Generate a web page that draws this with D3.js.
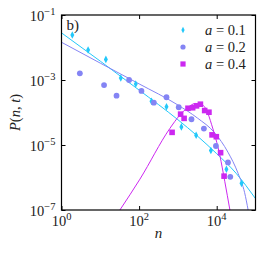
<html>
<head>
<meta charset="utf-8" />
<script src="https://cdn.jsdelivr.net/npm/d3@7/dist/d3.min.js"></script>
<style>
body { margin: 0; background: #fff; }
.frame { fill: none; stroke: #000; stroke-width: 1.2px; }
.fit { fill: none; stroke-width: 1px; }
</style>
</head>
<body>
<svg id="chart" width="267" height="253"></svg>
<script>

var svgWidth = 267;
var svgHeight = 253;
var margin = {top: 15, right: 11.5, bottom: 43, left: 61.5};
var width = svgWidth - margin.left - margin.right;
var height = svgHeight - margin.top - margin.bottom;
var font = "'Liberation Serif', 'DejaVu Serif', serif";

// series a = 0.1 (diamonds)
var n01 = [1.9, 4.85, 13.9, 33.7, 82, 209, 508, 1230, 2950, 7080, 17800, 43600];
var p01 = [2.43e-2, 8.4e-3, 4.3e-3, 1.15e-3, 7.5e-4, 2.2e-4, 1.5e-4, 3.6e-5, 2.0e-5, 6.8e-6, 1.8e-6, 6.6e-7];
// series a = 0.2 (circles)
var n02 = [2.97, 12.5, 26.2, 55.2, 115, 240, 508, 1050, 2240, 4680, 9550, 19500, 22400];
var p02 = [1.6e-3, 7.0e-4, 3.3e-4, 1.0e-3, 4.6e-4, 2.0e-4, 2.95e-4, 1.45e-4, 6.2e-5, 3.2e-5, 9.3e-6, 2.9e-6, 1.05e-6];
// series a = 0.4 (squares)
var n04 = [708, 1175, 1445, 1820, 2400, 3020, 3800, 4900, 6310, 7590, 9770, 12600, 15500];
var p04 = [2.45e-5, 8.9e-5, 6.6e-5, 1.35e-4, 1.4e-4, 1.6e-4, 1.8e-4, 1.15e-4, 1.02e-4, 2.05e-5, 1.8e-5, 5.8e-6, 1.1e-6];

// fitted curves
var fitN01 = [1, 10, 100, 1000, 3162, 1e4, 31623, 1e5];
var fitP01 = [2.82e-2, 3.8e-3, 4.9e-4, 6.0e-5, 1.9e-5, 5.4e-6, 1.35e-6, 2.24e-7];
var fitN02 = [1, 10, 100, 1000, 3162, 8913, 19500, 35500, 52500, 64600];
var fitP02 = [1.45e-2, 3.3e-3, 7.6e-4, 1.7e-4, 6.8e-5, 2.35e-5, 6.0e-6, 1.35e-6, 3.4e-7, 1e-7];
var fitN04 = [32, 105, 617, 1120, 1780, 2820, 4170, 5500, 7410, 12000, 16200, 21900];
var fitP04 = [1e-7, 8.9e-7, 3.2e-5, 8.3e-5, 1.4e-4, 1.9e-4, 1.75e-4, 1.17e-4, 4.2e-5, 4.9e-6, 7.4e-7, 1e-7];

var xTicks = [1, 100, 10000];
var xTickExp = ["0", "2", "4"];
var yTicks = [1e-1, 1e-3, 1e-5, 1e-7];
var yTickExp = ["\u22121", "\u22123", "\u22125", "\u22127"];

var labels = ["a = 0.1", "a = 0.2", "a = 0.4"];
var colors = ["#22c8fa", "#8484f4", "#cc28f0"];

var svg = d3.select("#chart");
var g = svg.append("g").attr("transform", "translate(" + margin.left + "," + margin.top + ")");

var x = d3.scaleLog().domain([1, 1e5]).range([0, width]);
var y = d3.scaleLog().domain([1e-7, 1e-1]).range([height, 0]);

g.append("defs").append("clipPath")
    .attr("id", "clip")
    .append("rect")
    .attr("width", width)
    .attr("height", height);

function zip(a, b) { return a.map(function(d, i) { return [d, b[i]]; }); }

var line = d3.line()
    .curve(d3.curveMonotoneX)
    .x(function(d) { return x(d[0]); })
    .y(function(d) { return y(d[1]); });

var plot = g.append("g").attr("clip-path", "url(#clip)");
[[fitN01, fitP01], [fitN02, fitP02], [fitN04, fitP04]].forEach(function(f, i) {
	plot.append("path")
	    .datum(zip(f[0], f[1]))
	    .attr("class", "fit")
	    .attr("stroke", colors[i])
	    .attr("d", line);
});

var diamond = "M0,-3.8L2,0L0,3.8L-2,0Z";
var diamondSmall = "M0,-3.2L1.6,0L0,3.2L-1.6,0Z";

plot.selectAll(".d01").data(zip(n01, p01)).enter().append("path")
    .attr("d", diamond)
    .attr("fill", colors[0])
    .attr("transform", function(d) { return "translate(" + x(d[0]) + "," + y(d[1]) + ")"; });

plot.selectAll(".d02").data(zip(n02, p02)).enter().append("circle")
    .attr("r", 2.9)
    .attr("fill", colors[1])
    .attr("cx", function(d) { return x(d[0]); })
    .attr("cy", function(d) { return y(d[1]); });

plot.selectAll(".d04").data(zip(n04, p04)).enter().append("rect")
    .attr("width", 5.6).attr("height", 5.6)
    .attr("fill", colors[2])
    .attr("x", function(d) { return x(d[0]) - 2.8; })
    .attr("y", function(d) { return y(d[1]) - 2.8; });

// frame and inward ticks
g.append("rect").attr("class", "frame").attr("width", width).attr("height", height);

g.append("g").attr("transform", "translate(0," + height + ")")
    .call(d3.axisBottom(x).tickValues(xTicks).tickSize(-4).tickFormat(""))
    .call(function(a) { a.select(".domain").remove(); });
g.append("g")
    .call(d3.axisTop(x).tickValues(xTicks).tickSize(-4).tickFormat(""))
    .call(function(a) { a.select(".domain").remove(); });
g.append("g")
    .call(d3.axisLeft(y).tickValues(yTicks).tickSize(-4).tickFormat(""))
    .call(function(a) { a.select(".domain").remove(); });
g.append("g").attr("transform", "translate(" + width + ",0)")
    .call(d3.axisRight(y).tickValues(yTicks).tickSize(-4).tickFormat(""))
    .call(function(a) { a.select(".domain").remove(); });

function txt(sel, size) {
	return sel.append("text")
	    .attr("font-family", font)
	    .attr("font-size", size)
	    .attr("fill", "#222");
}

// tick labels
xTicks.forEach(function(t, i) {
	let lab = txt(g, 14.5)
	    .attr("x", x(t))
	    .attr("y", height + 16)
	    .attr("text-anchor", "middle");
	lab.append("tspan").text("10");
	lab.append("tspan").attr("dy", -6).attr("font-size", 10.5).text(xTickExp[i]);
});

yTicks.forEach(function(t, i) {
	let lab = txt(g, 14.5)
	    .attr("x", -6)
	    .attr("y", y(t) + 6)
	    .attr("text-anchor", "end");
	lab.append("tspan").text("10");
	lab.append("tspan").attr("dy", -6).attr("font-size", 10.5).text(yTickExp[i]);
});

// axis titles
txt(g, 15)
    .attr("x", width / 2)
    .attr("y", height + 28)
    .attr("text-anchor", "middle")
    .attr("font-style", "italic")
    .text("n");

let yt = txt(g, 14.5)
    .attr("transform", "translate(" + (-42) + "," + (height / 2) + ") rotate(-90)")
    .attr("text-anchor", "middle");
yt.append("tspan").attr("font-style", "italic").text("P");
yt.append("tspan").text("(");
yt.append("tspan").attr("font-style", "italic").text("n");
yt.append("tspan").text(", ");
yt.append("tspan").attr("font-style", "italic").text("t");
yt.append("tspan").text(")");

// panel label
txt(g, 15)
    .attr("x", 5)
    .attr("y", 15)
    .text("b)");

// legend
var legend = g.append("g").attr("transform", "translate(" + (183 - margin.left) + "," + (30 - margin.top) + ")");
labels.forEach(function(l, i) {
	let row = legend.append("g").attr("transform", "translate(0," + (i * 17) + ")");
	if (i == 0) row.append("path").attr("d", diamondSmall).attr("fill", colors[0]);
	if (i == 1) row.append("circle").attr("r", 2.6).attr("fill", colors[1]);
	if (i == 2) row.append("rect").attr("x", -2.6).attr("y", -2.6).attr("width", 5.2).attr("height", 5.2).attr("fill", colors[2]);
	let parts = l.split(" = ");
	let t = txt(row, 14.5).attr("x", 22).attr("y", 5);
	t.append("tspan").attr("font-style", "italic").text(parts[0]);
	t.append("tspan").text(" = " + parts[1]);
});

</script>
</body>
</html>
